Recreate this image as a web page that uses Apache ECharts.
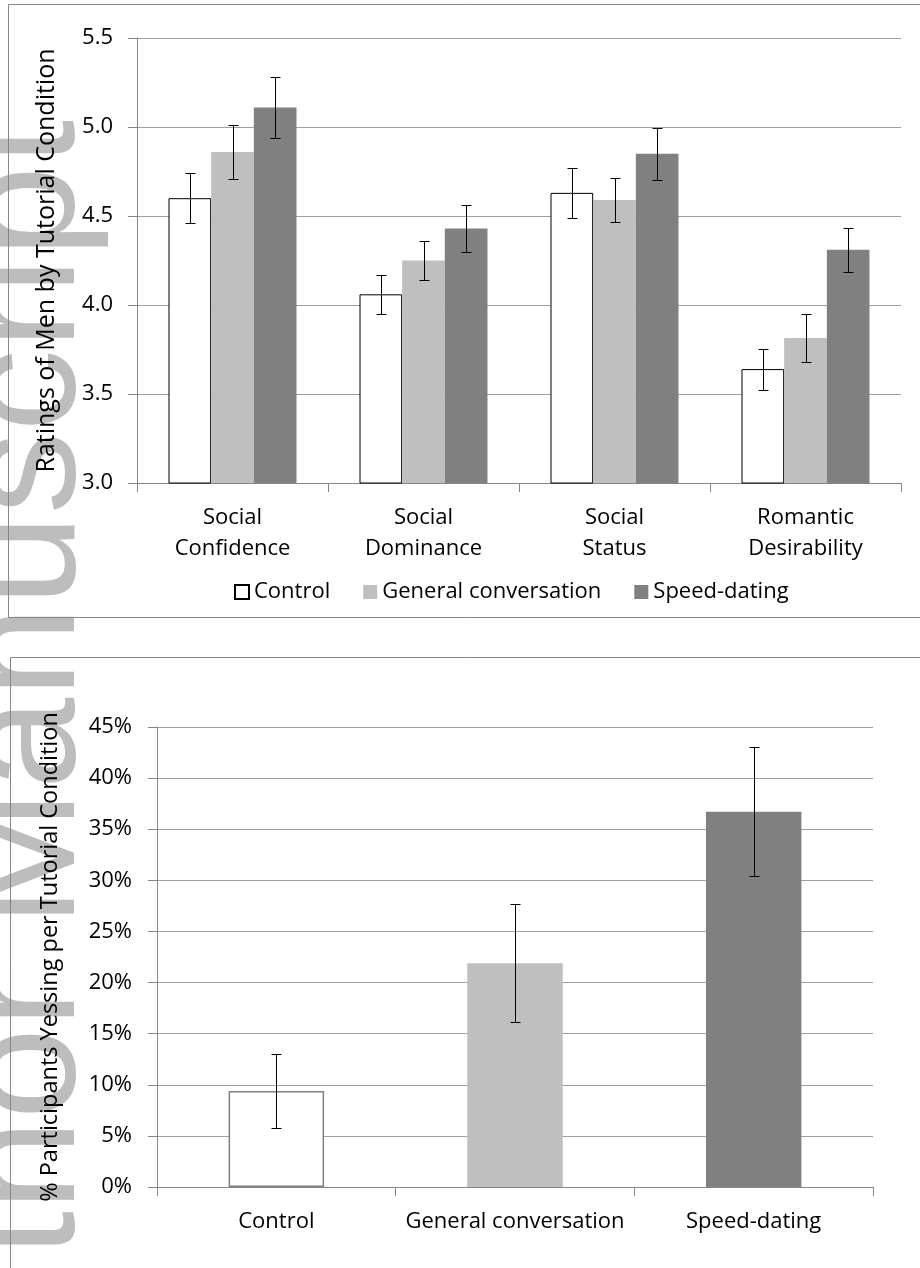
<!DOCTYPE html>
<html>
<head>
<meta charset="utf-8">
<script src="https://cdn.jsdelivr.net/npm/echarts@6/dist/echarts.min.js"></script>
<style>
html,body{margin:0;padding:0;background:#fff;}
#chart{width:920px;height:1268px;}
</style>
</head>
<body>
<div id="chart"></div>
<script>
// ---- Top chart data ----
const traits = ['Social\nConfidence', 'Social\nDominance', 'Social\nStatus', 'Romantic\nDesirability'];
const seriesNames = ['Control', 'General conversation', 'Speed-dating'];
const controlVals = [4.60, 4.06, 4.63, 3.64];
const controlErr  = [0.14, 0.11, 0.14, 0.115];
const generalVals = [4.86, 4.25, 4.59, 3.815];
const generalErr  = [0.15, 0.11, 0.125, 0.135];
const speedVals   = [5.11, 4.43, 4.85, 4.31];
const speedErr    = [0.17, 0.13, 0.145, 0.125];
const ratingTicks = [3.0, 3.5, 4.0, 4.5, 5.0, 5.5];

// ---- Bottom chart data ----
const conditions = ['Control', 'General conversation', 'Speed-dating'];
const yesPct = [9.4, 21.9, 36.7];
const yesErr = [3.6, 5.8, 6.3];
const pctTicks = [0, 5, 10, 15, 20, 25, 30, 35, 40, 45];

const FONT = '"Open Sans", "DejaVu Sans", sans-serif';
const GRID_COLOR = '#a0a0a0';
const AXIS_COLOR = '#868686';
const barColors = ['#ffffff', '#bfbfbf', '#808080'];

const chart = echarts.init(document.getElementById('chart'), null, {renderer: 'canvas'});

const topCatGap = 0.33;
const botCatGap = 0.60;

function errRenderer(offsetIndex, nBars, catGap) {
  return function (params, api) {
    const ci = api.value(0), v = api.value(1), e = api.value(2);
    const c = api.coord([ci, v]);
    const band = api.size([1, 0])[0];
    const barW = band * (1 - catGap) / nBars;
    const x = Math.round(c[0] + (offsetIndex - (nBars - 1) / 2) * barW) + 0.5;
    const yT = Math.round(api.coord([ci, v + e])[1]) + 0.5;
    const yB = Math.round(api.coord([ci, v - e])[1]) + 0.5;
    const cap = 5;
    const st = {stroke: '#000', lineWidth: 1};
    return {
      type: 'group',
      children: [
        {type: 'line', shape: {x1: x, y1: yT, x2: x, y2: yB}, style: st},
        {type: 'line', shape: {x1: x - cap, y1: yT, x2: x + cap, y2: yT}, style: st},
        {type: 'line', shape: {x1: x - cap, y1: yB, x2: x + cap, y2: yB}, style: st}
      ]
    };
  };
}

const topVals = [controlVals, generalVals, speedVals];
const topErrs = [controlErr, generalErr, speedErr];
const topBarStyles = [
  {color: barColors[0], borderColor: '#000', borderWidth: 1},
  {color: barColors[1]},
  {color: barColors[2]}
];

const series = [];
topVals.forEach((vals, s) => {
  series.push({
    name: seriesNames[s],
    type: 'bar',
    xAxisIndex: 0, yAxisIndex: 0,
    barGap: '0%',
    barCategoryGap: (topCatGap * 100) + '%',
    itemStyle: topBarStyles[s],
    data: vals,
    z: 2
  });
});
topVals.forEach((vals, s) => {
  series.push({
    name: seriesNames[s] + ' error',
    type: 'custom',
    xAxisIndex: 0, yAxisIndex: 0,
    renderItem: errRenderer(s, 3, topCatGap),
    encode: {x: 0, y: 1},
    data: vals.map((v, i) => [i, v, topErrs[s][i]]),
    z: 5,
    silent: true
  });
});

const botBarStyles = [
  {color: barColors[0], borderColor: '#7f7f7f', borderWidth: 1.5},
  {color: barColors[1]},
  {color: barColors[2]}
];
series.push({
  name: 'Yessing',
  type: 'bar',
  xAxisIndex: 1, yAxisIndex: 1,
  barCategoryGap: (botCatGap * 100) + '%',
  data: yesPct.map((v, i) => ({value: v, itemStyle: botBarStyles[i]})),
  z: 2
});
series.push({
  name: 'Yessing error',
  type: 'custom',
  xAxisIndex: 1, yAxisIndex: 1,
  renderItem: errRenderer(0, 1, botCatGap),
  encode: {x: 0, y: 1},
  data: yesPct.map((v, i) => [i, v, yesErr[i]]),
  z: 5,
  silent: true
});

const axisLine = {show: true, lineStyle: {color: AXIS_COLOR, width: 1}};
const axisTick = {show: true, length: 9, lineStyle: {color: AXIS_COLOR}};
const labelStyle = {color: '#000', fontFamily: FONT, fontSize: 22};

const option = {
  animation: false,
  backgroundColor: '#fff',
  textStyle: {fontFamily: FONT},
  grid: [
    {left: 137, right: 19, top: 38, bottom: 1268 - 483, containLabel: false},
    {left: 157, right: 47, top: 727, bottom: 1268 - 1187, containLabel: false}
  ],
  legend: {
    data: seriesNames,
    left: 229,
    top: 576,
    itemWidth: 14,
    itemHeight: 14,
    itemGap: 33,
    icon: 'rect',
    textStyle: {color: '#000', fontFamily: FONT, fontSize: 22}
  },
  xAxis: [
    {
      type: 'category', gridIndex: 0, data: traits,
      axisLine: axisLine, axisTick: axisTick,
      axisLabel: Object.assign({margin: 19, lineHeight: 31, interval: 0}, labelStyle)
    },
    {
      type: 'category', gridIndex: 1, data: conditions,
      axisLine: axisLine, axisTick: axisTick,
      axisLabel: Object.assign({margin: 19, lineHeight: 31, interval: 0}, labelStyle)
    }
  ],
  yAxis: [
    {
      type: 'value', gridIndex: 0,
      min: ratingTicks[0], max: ratingTicks[ratingTicks.length - 1], interval: 0.5,
      axisLine: axisLine, axisTick: axisTick,
      splitLine: {show: true, lineStyle: {color: GRID_COLOR}},
      axisLabel: Object.assign({margin: 24, formatter: v => v.toFixed(1)}, labelStyle),
      name: 'Ratings of Men by Tutorial Condition',
      nameLocation: 'middle', nameRotate: 90, nameGap: 78,
      nameTextStyle: {color: '#000', fontFamily: FONT, fontSize: 25}
    },
    {
      type: 'value', gridIndex: 1,
      min: pctTicks[0], max: pctTicks[pctTicks.length - 1], interval: 5,
      axisLine: axisLine, axisTick: axisTick,
      splitLine: {show: true, lineStyle: {color: GRID_COLOR}},
      axisLabel: Object.assign({margin: 25, formatter: v => v + '%'}, labelStyle),
      name: '% Participants Yessing per Tutorial Condition',
      nameLocation: 'middle', nameRotate: 90, nameGap: 95,
      nameTextStyle: {color: '#000', fontFamily: FONT, fontSize: 23.5}
    }
  ],
  graphic: [
    {
      type: 'text', z: -10, silent: true,
      x: 111, y: 120, rotation: Math.PI / 2,
      style: {
        text: 'Author Manuscript',
        font: '165px "Liberation Sans", Arial, sans-serif',
        fill: '#bdbdbd',
        align: 'right',
        verticalAlign: 'bottom'
      }
    },
    {
      type: 'rect', z: 10, silent: true,
      shape: {x: 8.5, y: 4.5, width: 940, height: 613},
      style: {fill: 'none', stroke: AXIS_COLOR, lineWidth: 1}
    },
    {
      type: 'rect', z: 10, silent: true,
      shape: {x: 10.5, y: 657.5, width: 940, height: 700},
      style: {fill: 'none', stroke: AXIS_COLOR, lineWidth: 1}
    }
  ],
  series: series
};

chart.setOption(option);
</script>
</body>
</html>
